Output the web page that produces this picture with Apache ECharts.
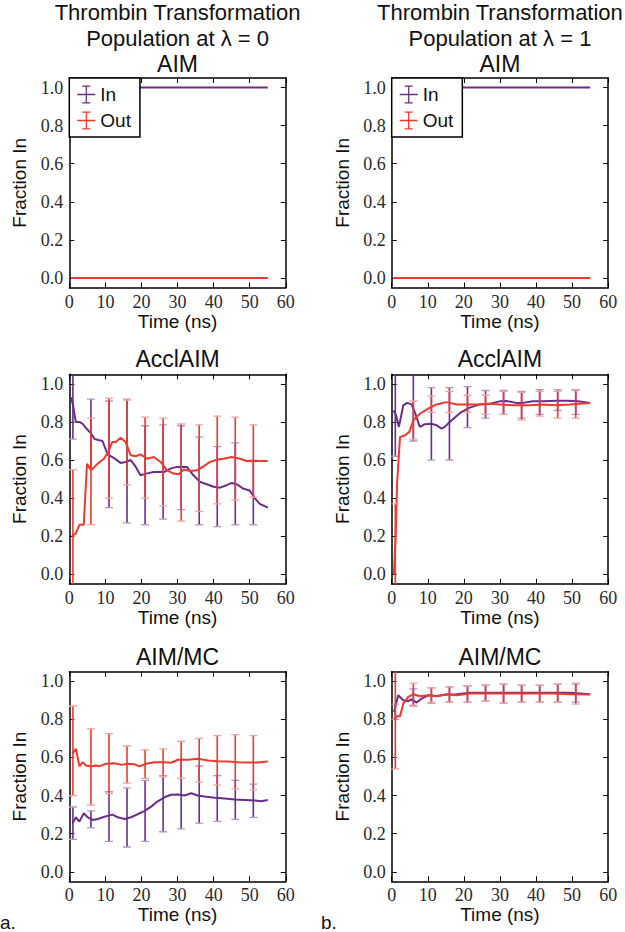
<!DOCTYPE html>
<html>
<head>
<meta charset="utf-8">
<script src="https://cdn.jsdelivr.net/npm/echarts@6.0.0/dist/echarts.min.js"></script>
<style>
html,body{margin:0;padding:0;background:#fff;}
#chart{width:625px;height:932px;}
</style>
</head>
<body>
<div id="chart"></div>
<script>
// ---------- tick labels / shared values ----------
const timeTicks = [0, 10, 20, 30, 40, 50, 60];
const fracTicks = [0.0, 0.2, 0.4, 0.6, 0.8, 1.0];
const errTimes = [1, 6, 11, 16, 21, 26, 31, 36, 41, 46, 51];
const seriesNames = ['In', 'Out'];
const columnTitles = ['Thrombin Transformation\nPopulation at \u03bb = 0', 'Thrombin Transformation\nPopulation at \u03bb = 1'];
const panelTitles = ['AIM', 'AcclAIM', 'AIM/MC'];

// ---------- AIM (lambda = 0 / 1) ----------
const aim0In  = [[0.5, 1.0], [55, 1.0]];
const aim0Out = [[0.5, 0.0], [55, 0.0]];
const aim1In  = [[0.5, 1.0], [55, 1.0]];
const aim1Out = [[0.5, 0.0], [55, 0.0]];

// ---------- AcclAIM lambda = 0 ----------
const accl0In = [[0.5,0.93],[1,0.89],[1.8,0.80],[2.8,0.80],[3.7,0.79],[5,0.76],[6,0.74],[7,0.71],[8,0.705],[9.2,0.70],[10.6,0.63],[12.4,0.61],[14.2,0.585],[15.6,0.59],[17,0.60],[18.4,0.565],[19.7,0.52],[21.6,0.53],[23.4,0.537],[26.2,0.537],[28,0.555],[29.8,0.564],[32.6,0.564],[34.4,0.52],[36.3,0.485],[38.1,0.473],[40,0.46],[41.8,0.455],[43.6,0.468],[45,0.48],[46.4,0.473],[48.2,0.45],[50,0.44],[51.4,0.40],[52.8,0.37],[55,0.35]];
const accl0Out = [[0.7,0.20],[1.8,0.215],[2.8,0.26],[4,0.26],[4.9,0.58],[6,0.546],[7.8,0.58],[9.6,0.607],[11,0.65],[11.9,0.695],[12.9,0.695],[14.2,0.717],[15.6,0.695],[17,0.625],[18.4,0.62],[19.7,0.63],[21.6,0.607],[23.4,0.616],[25.3,0.59],[27.1,0.546],[28.9,0.529],[30.3,0.525],[31.7,0.55],[33.5,0.543],[35.4,0.546],[37.2,0.567],[39,0.59],[40.9,0.602],[42.7,0.607],[45,0.616],[47.3,0.607],[49.1,0.595],[51,0.595],[55,0.595]];
const accl0InErr  = [[0.71,1.07],[0.56,0.92],[0.35,0.91],[0.27,0.92],[0.26,0.78],[0.29,0.785],[0.34,0.78],[0.26,0.72],[0.25,0.67],[0.26,0.69],[0.26,0.60]];
const accl0OutErr = [[-0.14,0.55],[0.26,0.82],[0.40,0.925],[0.47,0.915],[0.40,0.825],[0.36,0.82],[0.28,0.79],[0.33,0.785],[0.37,0.83],[0.39,0.825],[0.405,0.785]];

// ---------- AcclAIM lambda = 1 ----------
const accl1In = [[0.5,0.86],[1.2,0.835],[2,0.774],[3.2,0.887],[4.3,0.90],[5.5,0.892],[6.4,0.852],[7.8,0.774],[9.2,0.788],[11,0.79],[12.4,0.783],[13.8,0.765],[14.7,0.774],[16.1,0.80],[17.5,0.823],[19.3,0.852],[21.6,0.875],[24.4,0.892],[27.2,0.896],[29.9,0.908],[31.8,0.91],[34.5,0.90],[36.4,0.90],[39.1,0.908],[41.9,0.908],[45.6,0.911],[48.3,0.911],[51.1,0.91],[55,0.90]];
const accl1Out = [[0.6,0.0],[1.1,0.2],[1.5,0.48],[2.3,0.72],[3.7,0.73],[4.9,0.748],[6,0.809],[7.8,0.843],[10.1,0.87],[12.4,0.892],[15.2,0.904],[18,0.892],[20.7,0.892],[23.5,0.892],[27.2,0.896],[30.8,0.89],[34.5,0.887],[38,0.887],[41.9,0.892],[45.6,0.887],[49.3,0.892],[55,0.90]];
const accl1InErr  = [[0.62,1.06],[0.70,1.07],[0.60,0.98],[0.60,0.98],[0.77,0.985],[0.82,0.965],[0.84,0.965],[0.82,0.96],[0.84,0.97],[0.86,0.97],[0.84,0.97]];
const accl1OutErr = [[-0.10,0.37],[0.71,0.91],[0.85,0.935],[0.85,0.96],[0.85,0.94],[0.84,0.94],[0.84,0.96],[0.81,0.955],[0.83,0.96],[0.82,0.96],[0.82,0.965]];

// ---------- AIM/MC lambda = 0 ----------
const mc0In = [[0.9,0.254],[1.85,0.286],[2.8,0.263],[4,0.307],[5.1,0.286],[6.5,0.272],[7.9,0.277],[9.7,0.289],[12,0.30],[13.4,0.286],[15.3,0.277],[17.1,0.286],[19,0.303],[20.8,0.318],[22.7,0.342],[24.5,0.37],[26.4,0.391],[28.2,0.404],[30.1,0.405],[31.9,0.40],[33.8,0.412],[35.6,0.40],[37.5,0.395],[40.3,0.388],[43.1,0.384],[45.8,0.379],[48.6,0.377],[51.4,0.374],[53.2,0.37],[55,0.377]];
const mc0Out = [[0.9,0.62],[1.85,0.645],[2.8,0.553],[3.7,0.575],[4.6,0.558],[6,0.553],[7.4,0.558],[8.3,0.553],[10.2,0.567],[12.5,0.57],[14.4,0.561],[16.2,0.567],[18.1,0.564],[19.4,0.553],[21.3,0.567],[23.6,0.575],[26.4,0.575],[28.2,0.572],[30.1,0.588],[32.9,0.588],[35.6,0.593],[38.4,0.584],[41.2,0.58],[44,0.579],[46.8,0.575],[49.5,0.574],[52.3,0.574],[55,0.579]];
const mc0InErr  = [[0.17,0.34],[0.23,0.32],[0.16,0.42],[0.13,0.44],[0.16,0.48],[0.21,0.505],[0.225,0.59],[0.255,0.555],[0.265,0.505],[0.275,0.48],[0.285,0.46]];
const mc0OutErr = [[0.40,0.87],[0.35,0.75],[0.41,0.725],[0.465,0.66],[0.49,0.64],[0.50,0.645],[0.49,0.685],[0.47,0.70],[0.455,0.715],[0.435,0.72],[0.43,0.715]];

// ---------- AIM/MC lambda = 1 ----------
const mc1In = [[0.65,0.839],[1.8,0.926],[3.2,0.90],[4.6,0.895],[5.5,0.905],[6.9,0.888],[8.3,0.909],[10.1,0.926],[12.5,0.923],[15.2,0.93],[18,0.932],[21.7,0.939],[26.3,0.939],[30.9,0.939],[35.5,0.939],[40.1,0.94],[44.7,0.939],[49.4,0.94],[55,0.932]];
const mc1Out = [[0.7,0.80],[1.4,0.816],[2.3,0.816],[3.2,0.882],[4.6,0.918],[6,0.932],[7.8,0.921],[10.1,0.926],[12.5,0.921],[15.2,0.932],[18,0.926],[21.7,0.935],[26.3,0.935],[30.9,0.935],[35.5,0.935],[40.1,0.935],[44.7,0.935],[49.4,0.932],[55,0.93]];
const mc1InErr  = [[0.80,0.88],[0.87,0.96],[0.885,0.965],[0.89,0.97],[0.89,0.975],[0.895,0.98],[0.885,0.985],[0.89,0.98],[0.89,0.98],[0.89,0.985],[0.89,0.985]];
const mc1OutErr = [[0.54,1.06],[0.875,0.99],[0.89,0.965],[0.89,0.97],[0.89,0.975],[0.895,0.98],[0.885,0.985],[0.89,0.98],[0.89,0.98],[0.89,0.985],[0.88,0.99]];

// ---------- styling ----------
const PURPLE = '#6b2c8c', PURPLE_CAP = '#b596c6';
const RED = '#ee3a2e', RED_CAP = '#f4a39c';
const SANS = "'Liberation Sans', Arial, Helvetica, sans-serif";
const SERIF = "'Liberation Serif', 'Times New Roman', serif";
const colLeft = [69.3, 391.7];
const rowTop = [78, 374.3, 671.7];
const GW = 216.5, GH = 209.6;

const panels = [
  {row:0, col:0, inn:aim0In,  out:aim0Out,  innErr:null,       outErr:null},
  {row:0, col:1, inn:aim1In,  out:aim1Out,  innErr:null,       outErr:null},
  {row:1, col:0, inn:accl0In, out:accl0Out, innErr:accl0InErr, outErr:accl0OutErr},
  {row:1, col:1, inn:accl1In, out:accl1Out, innErr:accl1InErr, outErr:accl1OutErr},
  {row:2, col:0, inn:mc0In,   out:mc0Out,   innErr:mc0InErr,   outErr:mc0OutErr},
  {row:2, col:1, inn:mc1In,   out:mc1Out,   innErr:mc1InErr,   outErr:mc1OutErr}
];

function errRenderer(color, capColor) {
  return function (params, api) {
    const t = api.value(0), lo = api.value(1), hi = api.value(2);
    const a = api.coord([t, lo]), b = api.coord([t, hi]);
    const cw = 4;
    return {
      type: 'group',
      children: [
        {type:'line', shape:{x1:a[0], y1:a[1], x2:b[0], y2:b[1]}, style:{stroke:color, lineWidth:1.6}},
        {type:'line', shape:{x1:a[0]-cw, y1:a[1], x2:a[0]+cw, y2:a[1]}, style:{stroke:capColor, lineWidth:1.3}},
        {type:'line', shape:{x1:b[0]-cw, y1:b[1], x2:b[0]+cw, y2:b[1]}, style:{stroke:capColor, lineWidth:1.3}}
      ]
    };
  };
}

const frameLine = {show:true, onZero:false, lineStyle:{color:'#000', width:1.5}};
const tickStyle = {color:'#000', width:1};

const grid = [], xAxis = [], yAxis = [], series = [];
panels.forEach((p, i) => {
  grid.push({left: colLeft[p.col], top: rowTop[p.row], width: GW, height: GH, containLabel: false});
  xAxis.push({
    type:'value', gridIndex:i, position:'bottom', min:timeTicks[0], max:timeTicks[timeTicks.length-1], interval:10,
    axisLine: frameLine,
    axisTick:{show:true, inside:true, length:5, lineStyle:tickStyle},
    axisLabel:{show:true, margin:5, fontFamily:SERIF, fontSize:18, color:'#2a2a2a', customValues: timeTicks},
    splitLine:{show:false},
    name:'Time (ns)', nameLocation:'middle', nameGap:24,
    nameTextStyle:{fontFamily:SANS, fontSize:19, color:'#111'}
  });
  xAxis.push({
    type:'value', gridIndex:i, position:'top', min:timeTicks[0], max:timeTicks[timeTicks.length-1], interval:10,
    axisLine: frameLine,
    axisTick:{show:true, inside:true, length:5, lineStyle:tickStyle},
    axisLabel:{show:false}, splitLine:{show:false}
  });
  yAxis.push({
    type:'value', gridIndex:i, position:'left', min:-0.05, max:1.05,
    axisLine: frameLine,
    axisTick:{show:true, inside:true, length:5, lineStyle:tickStyle, customValues: fracTicks},
    axisLabel:{show:true, margin:6, fontFamily:SERIF, fontSize:18, color:'#2a2a2a', customValues: fracTicks,
               formatter: v => Number(v).toFixed(1)},
    splitLine:{show:false},
    name:'Fraction In', nameLocation:'middle', nameGap:40, nameRotate:90,
    nameTextStyle:{fontFamily:SANS, fontSize:19, color:'#111'}
  });
  yAxis.push({
    type:'value', gridIndex:i, position:'right', min:-0.05, max:1.05,
    axisLine: frameLine,
    axisTick:{show:true, inside:true, length:5, lineStyle:tickStyle, customValues: fracTicks},
    axisLabel:{show:false}, splitLine:{show:false}
  });

  const xi = 2*i, yi = 2*i;
  const lineCommon = {type:'line', xAxisIndex:xi, yAxisIndex:yi, showSymbol:false, symbol:'none', clip:true, animation:false};
  series.push(Object.assign({}, lineCommon, {name:seriesNames[0], data:p.inn, color:PURPLE, lineStyle:{color:PURPLE, width:2}, z:2}));
  if (p.innErr) {
    series.push({type:'custom', name:'In error', xAxisIndex:xi, yAxisIndex:yi, clip:true, z:3,
      data: errTimes.map((t,k) => [t, p.innErr[k][0], p.innErr[k][1]]),
      encode:{x:0, y:[1,2]}, renderItem: errRenderer(PURPLE, PURPLE_CAP), animation:false});
  }
  series.push(Object.assign({}, lineCommon, {name:seriesNames[1], data:p.out, color:RED, lineStyle:{color:RED, width:2}, z:4}));
  if (p.outErr) {
    series.push({type:'custom', name:'Out error', xAxisIndex:xi, yAxisIndex:yi, clip:true, z:5,
      data: errTimes.map((t,k) => [t, p.outErr[k][0], p.outErr[k][1]]),
      encode:{x:0, y:[1,2]}, renderItem: errRenderer(RED, RED_CAP), animation:false});
  }
});

const errIcon = 'path://M0,9.3h20v1.4h-20z M9.3,0h1.4v20h-1.4z M5.5,0h9v1.3h-9z M5.5,18.7h9v1.3h-9z';
const legendCommon = {
  data: seriesNames, orient:'vertical', top: rowTop[0], icon: errIcon,
  itemWidth:18, itemHeight:20, itemGap:7, padding:[7,9,7,8],
  backgroundColor:'#fff', borderColor:'#000', borderWidth:1.5, borderRadius:0,
  selectedMode:false, z:10,
  textStyle:{fontFamily:SANS, fontSize:19, color:'#111'}
};
const legend = [
  Object.assign({}, legendCommon, {left: colLeft[0]}),
  Object.assign({}, legendCommon, {left: colLeft[1]})
];

const graphic = [];
const colCenter = colLeft.map(l => l + GW/2);
columnTitles.forEach((t, c) => {
  const lines = t.split('\n');
  lines.forEach((ln, k) => {
    graphic.push({type:'text', x: colCenter[c], y: 12 + 26*k,
      style:{text: ln, font: '22px ' + SANS, fill:'#111', textAlign:'center', textVerticalAlign:'middle'}});
  });
});
const titleY = [64, 359, 656.5];
panelTitles.forEach((t, r) => {
  colCenter.forEach(cx => {
    graphic.push({type:'text', x: cx, y: titleY[r],
      style:{text: t, font: '23px ' + SANS, fill:'#111', textAlign:'center', textVerticalAlign:'middle'}});
  });
});
graphic.push({type:'text', x: 0, y: 922, style:{text:'a.', font:'19px ' + SANS, fill:'#111', textAlign:'left', textVerticalAlign:'middle'}});
graphic.push({type:'text', x: 321, y: 922, style:{text:'b.', font:'19px ' + SANS, fill:'#111', textAlign:'left', textVerticalAlign:'middle'}});

const chart = echarts.init(document.getElementById('chart'), null, {renderer:'svg', width:625, height:932});
chart.setOption({
  animation:false,
  backgroundColor:'#fff',
  grid, xAxis, yAxis, series, legend, graphic
});
</script>
</body>
</html>
